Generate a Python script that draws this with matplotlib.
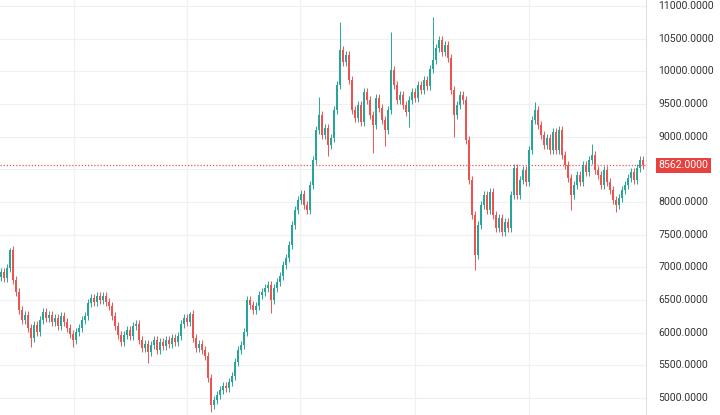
import matplotlib
matplotlib.use('agg')
import matplotlib.pyplot as plt
import numpy as np

# daily closes, left to right
closes = [6928, 6836, 6990, 7265, 6805, 6620, 6346, 6193, 6270, 6070,
          5917, 6117, 6010, 6193, 6315, 6223, 6270, 6162, 6223, 6100,
          6254, 6162, 6070, 5979, 5887, 6010, 6070, 6193, 6254, 6453,
          6530, 6468, 6560, 6500, 6560, 6468, 6407, 6254, 6100, 5963,
          5856, 5963, 6040, 5948, 6100, 6132, 5887, 5764, 5825, 5703,
          5810, 5887, 5734, 5856, 5795, 5887, 5825, 5917, 5856, 5948,
          6132, 6223, 6162, 6285, 5917, 5764, 5825, 5734, 5642, 5306,
          4891, 4968, 5045, 5122, 5183, 5152, 5244, 5336, 5550, 5734,
          5810, 6010, 6500, 6423, 6346, 6407, 6576, 6622, 6683, 6729,
          6500, 6683, 6775, 6867, 7035, 7142, 7341, 7647, 7877, 8030,
          8122, 7954, 7877, 8260, 8643, 9102, 9331, 9025, 9132, 8872,
          8979, 9408, 9791, 10326, 10143, 10250, 9867, 9408, 9285, 9485,
          9224, 9684, 9561, 9331, 9178, 9592, 9439, 9255, 9102, 9408,
          10020, 9791, 9561, 9637, 9485, 9377, 9561, 9684, 9592, 9791,
          9714, 9867, 9775, 10040, 10173, 10357, 10480, 10296, 10403, 10204,
          9714, 9331, 9485, 9637, 9561, 8949, 8336, 7800, 7188, 7647,
          7954, 8107, 7877, 8153, 7800, 7601, 7754, 7540, 7693, 7601,
          8107, 8520, 8107, 8336, 8489, 8306, 8796, 9255, 9408, 9178,
          9025, 8872, 8979, 8796, 9071, 8796, 9102, 8719, 8566, 8367,
          8107, 8260, 8413, 8306, 8566, 8459, 8643, 8719, 8489, 8413,
          8260, 8489, 8306, 8183, 8030, 7954, 8061, 8183, 8260, 8367,
          8459, 8336, 8520, 8643, 8562]
first_open = 6850
last_price = 8562

# long wicks (candle index -> price)
spike_hi = {3: 7300, 63: 6320, 106: 9600, 113: 10750, 121: 9750,
            130: 10600, 144: 10830, 178: 9530, 197: 8880}
spike_lo = {10: 5780, 24: 5780, 49: 5530, 70: 4780, 90: 6300, 109: 8700,
            124: 8750, 128: 8850, 136: 9150, 151: 9000, 158: 6960,
            190: 7880, 205: 7850}

price_ticks = list(range(5000, 11001, 500))
time_grid = [24.3, 62, 99.7, 138, 176]

up_col = '#26a69a'
dn_col = '#ef5350'

plt.rcParams['font.family'] = ['Roboto', 'DejaVu Sans']
fig = plt.figure(figsize=(7.2, 4.15), dpi=100)
ax = fig.add_axes([0, 0, 646 / 720, 1])

opens = [first_open] + closes[:-1]
for i, (o, c) in enumerate(zip(opens, closes)):
    col = up_col if c >= o else dn_col
    hi = spike_hi.get(i, max(o, c) + 60)
    lo = spike_lo.get(i, min(o, c) - 60)
    ax.vlines(i, lo, hi, color=col, lw=0.7, zorder=3)
    body = max(abs(c - o), 15)
    ax.bar(i, body, bottom=min(o, c), width=0.65, color=col, lw=0, zorder=4)

ax.axhline(last_price, color=dn_col, lw=0.9, ls=(0, (1, 1.5)), zorder=2)

for p in price_ticks:
    ax.axhline(p, color='#eef0f4', lw=0.9, zorder=0)
for t in time_grid:
    ax.axvline(t, color='#eef0f4', lw=0.9, zorder=0)

ax.set_xlim(-0.33, 215)
ax.set_ylim(4738, 11092)
ax.set_xticks([])
ax.set_yticks([])
for s in ax.spines.values():
    s.set_visible(False)
fig.add_artist(plt.Line2D([646 / 720, 646 / 720], [0, 1], color='#dcdfe6', lw=0.8))

# price scale labels (the one under the last-price tag is hidden)
for p in price_ticks:
    if abs(p - last_price) < 250:
        continue
    ax.annotate(f'{p:.4f}', xy=(1, p), xycoords=('axes fraction', 'data'),
                xytext=(9, 0), textcoords='offset points', va='center', ha='left',
                fontsize=7.6, color='#333333', annotation_clip=False)
ax.annotate(f'{last_price:.4f}', xy=(1, last_price), xycoords=('axes fraction', 'data'),
            xytext=(9, 0), textcoords='offset points', va='center', ha='left',
            fontsize=7.6, color='white', annotation_clip=False,
            bbox=dict(boxstyle='square,pad=0.25', fc='#e8423f', ec='none'))

fig.savefig('out.png', dpi=100, facecolor='white')
